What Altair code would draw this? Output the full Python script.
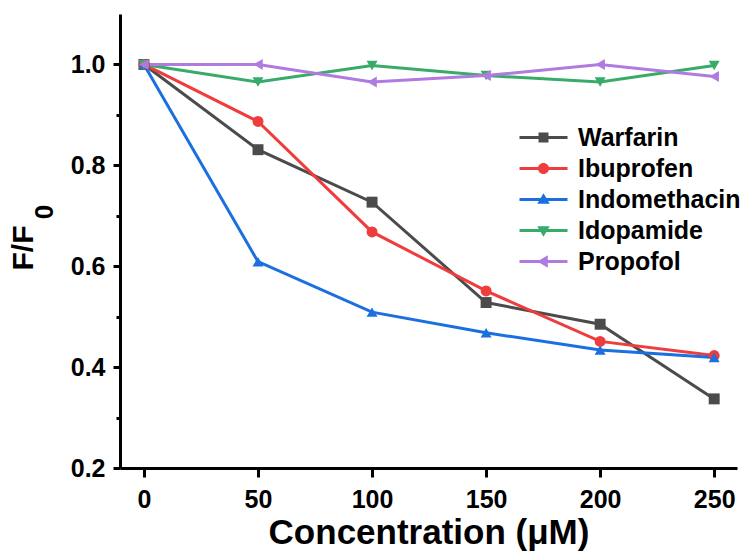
import altair as alt
import pandas as pd

# ---------------- data ----------------
conc = [0, 50, 100, 150, 200, 250]
drugs = ["Warfarin", "Ibuprofen", "Indomethacin", "Idopamide", "Propofol"]
warfarin = [1.0, 0.831, 0.727, 0.528, 0.485, 0.337]
ibuprofen = [1.0, 0.887, 0.668, 0.551, 0.451, 0.423]
indomethacin = [1.0, 0.609, 0.509, 0.468, 0.434, 0.419]
idopamide = [1.0, 0.965, 0.998, 0.978, 0.965, 0.998]
propofol = [1.0, 1.0, 0.965, 0.978, 1.0, 0.976]
series = [warfarin, ibuprofen, indomethacin, idopamide, propofol]

colors = ["#4b4b4b", "#ef3c3c", "#1b6fdf", "#38ab6a", "#b07be0"]
shapes = ["square", "circle", "triangle-up", "triangle-down", "triangle-left"]

y_ticks = [0.2, 0.3, 0.4, 0.5, 0.6, 0.7, 0.8, 0.9, 1.0]
x_title = "Concentration (μM)"
y_title_main = ["F/F"]
y_title_sub = ["0"]

# legend symbols: a line segment with the marker in the middle (custom SVG paths)
LINE = "M-4,-0.25H4V0.25H-4Z"
legend_paths = [
    LINE + "M-0.83,-0.83H0.83V0.83H-0.83Z",
    LINE + "M0.92,0A0.92,0.92,0,1,1,-0.92,0A0.92,0.92,0,1,1,0.92,0Z",
    LINE + "M0,-1.04L1.04,0.72L-1.04,0.72Z",
    LINE + "M0,1.04L-1.04,-0.72L1.04,-0.72Z",
    LINE + "M-1.04,0L0.72,-1.04L0.72,1.04Z",
]

rows = []
for d, vals in zip(drugs, series):
    for c, v in zip(conc, vals):
        rows.append({"Drug": d, "Conc": c, "Value": v})
df = pd.DataFrame(rows)

FONT = "Liberation Sans"

x_enc = alt.X(
    "Conc:Q",
    scale=alt.Scale(domain=[-10.5, 260], nice=False, zero=False),
    axis=alt.Axis(
        values=conc, title=x_title, grid=False, domainColor="black", domainWidth=3,
        tickColor="black", tickWidth=3, tickSize=9, labelFont=FONT, labelFontSize=25,
        labelFontWeight="bold", labelColor="black", labelPadding=10, labelFlush=False,
        titleFont=FONT, titleFontSize=35, titleFontWeight="bold", titleColor="black",
        titlePadding=3,
    ),
)
y_enc = alt.Y(
    "Value:Q",
    scale=alt.Scale(domain=[0.2, 1.1], nice=False, zero=False),
    axis=alt.Axis(
        values=y_ticks, title=None, grid=False, domainColor="black", domainWidth=3,
        tickColor="black", tickWidth=3,
        tickSize=alt.condition("round(datum.value*10) % 2 == 1", alt.value(4), alt.value(7)),
        labelExpr="round(datum.value*10) % 2 == 1 ? '' : format(datum.value, '.1f')",
        labelFont=FONT, labelFontSize=25, labelFontWeight="bold", labelColor="black",
        labelPadding=8, labelFlush=False,
    ),
)

color_scale = alt.Scale(domain=drugs, range=colors)

lines = alt.Chart(df).mark_line(strokeWidth=3).encode(
    x=x_enc, y=y_enc,
    color=alt.Color("Drug:N", scale=color_scale, legend=None),
)

points = alt.Chart(df).mark_point(filled=True, size=120, opacity=1).encode(
    x=x_enc, y=y_enc,
    color=alt.Color("Drug:N", scale=color_scale, legend=None),
    shape=alt.Shape("Drug:N", scale=alt.Scale(domain=drugs, range=shapes), legend=None),
)

leg = alt.Legend(
    orient="none", legendX=411, legendY=111, title=None, symbolSize=144,
    labelFont=FONT, labelFontSize=25, labelFontWeight="bold", labelColor="black",
    labelOffset=22, labelLimit=400, rowPadding=5, padding=0,
    symbolStrokeWidth=0, symbolOpacity=1,
)
legend_layer = (
    alt.Chart(df)
    .transform_calculate(Key="datum.Drug")
    .transform_filter("false")
    .mark_point(filled=True, opacity=1)
    .encode(
        color=alt.Color("Key:N", scale=alt.Scale(domain=drugs, range=colors), legend=leg),
        shape=alt.Shape("Key:N", scale=alt.Scale(domain=drugs, range=legend_paths), legend=leg),
    )
)

ytitle = alt.Chart(pd.DataFrame({"t": y_title_main})).mark_text(
    angle=270, font=FONT, fontSize=30, fontWeight="bold", color="black",
    align="center", baseline="alphabetic",
).encode(text="t:N", x=alt.value(-87), y=alt.value(234))

ysub = alt.Chart(pd.DataFrame({"t": y_title_sub})).mark_text(
    angle=270, font=FONT, fontSize=26, fontWeight="bold", color="black",
    align="center", baseline="alphabetic",
).encode(text="t:N", x=alt.value(-67), y=alt.value(198))

chart = (
    alt.layer(lines, points, legend_layer, ytitle, ysub)
    .resolve_scale(color="independent", shape="independent")
    .properties(
        width=617, height=454,
        autosize=alt.AutoSizeParams(type="none"),
        padding={"left": 120, "top": 14, "right": 10, "bottom": 89},
        background="white",
    )
    .configure_view(stroke=None)
)

chart.save("out.html", embed_options={"renderer": "svg", "actions": False})
